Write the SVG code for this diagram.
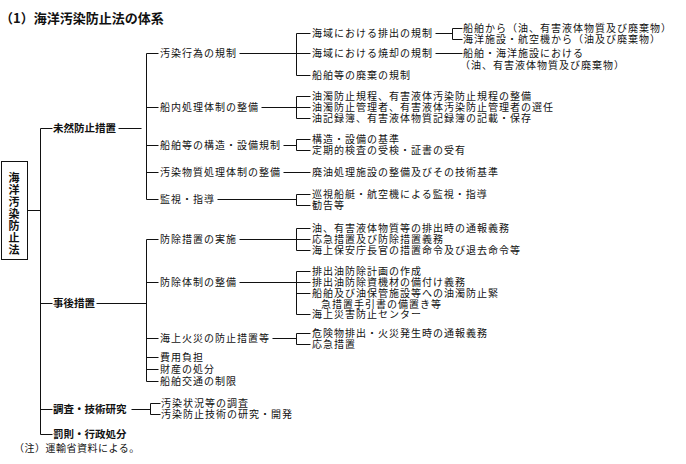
<svg xmlns="http://www.w3.org/2000/svg" width="686" height="464" viewBox="0 0 686 464">
<style>
text{font-family:"Noto Sans CJK JP","Noto Sans CJK SC",sans-serif;fill:#111;font-size:10px;letter-spacing:1px}
.t{font-size:13px;font-weight:bold;letter-spacing:0}
.l1{font-size:10.5px;font-weight:bold;letter-spacing:0}
.box{font-size:11px;font-weight:bold;letter-spacing:0}
.n{font-size:10px;letter-spacing:0.5px}
#connectors path,#connectors rect{fill:none;stroke:#111;stroke-width:1}
</style>
<rect width="686" height="464" fill="#fff"/>
<text class="t" x="0" y="23">（1）海洋汚染防止法の体系</text>
<g id="connectors" transform="translate(0.5,0.5)">
<rect x="1" y="161" width="26" height="98"/>
<path d="M27 210H40M52 128H40V434H52M40 303H52M40 409H52M118 128H141"/>
<path d="M158 53H146V199H158M146 107H158M146 145H158M146 172H158"/>
<path d="M158 239H146V381H158M146 282H158M146 338H158M146 357H158M146 369H158M96 303H146"/>
<path d="M239 53H296M310 33H296V75H310M296 53H310"/>
<path d="M435 33H452M462 28H452V39H462M435 53H462"/>
<path d="M261 107H296M310 96H296V118H310M296 107H310"/>
<path d="M283 145H296M310 139H296V150H310"/>
<path d="M283 172H310"/>
<path d="M217 199H296M310 194H296V205H310"/>
<path d="M239 239H296M310 228H296V250H310M296 239H310"/>
<path d="M239 282H296M310 271H296V314H310M296 282H310M296 293H310"/>
<path d="M272 338H296M310 333H296V344H310"/>
<path d="M131 409H150M160 403H150V414H160"/>
</g>
<g id="root">
<text class="box" text-anchor="middle"><tspan x="14" y="182">海</tspan><tspan x="14" y="194">洋</tspan><tspan x="14" y="206">汚</tspan><tspan x="14" y="218">染</tspan><tspan x="14" y="230">防</tspan><tspan x="14" y="242">止</tspan><tspan x="14" y="254">法</tspan></text>
</g>
<g id="level1">
<text class="l1" x="53" y="132">未然防止措置</text>
<text class="l1" x="53" y="307">事後措置</text>
<text class="l1" x="53" y="413">調査・技術研究</text>
<text class="l1" x="53" y="438">罰則・行政処分</text>
</g>
<g id="level2">
<text x="160" y="57">汚染行為の規制</text>
<text x="160" y="111">船内処理体制の整備</text>
<text x="160" y="149">船舶等の構造・設備規制</text>
<text x="160" y="176">汚染物質処理体制の整備</text>
<text x="160" y="203">監視・指導</text>
<text x="160" y="243">防除措置の実施</text>
<text x="160" y="286">防除体制の整備</text>
<text x="160" y="342">海上火災の防止措置等</text>
<text x="160" y="361">費用負担</text>
<text x="160" y="373">財産の処分</text>
<text x="160" y="385">船舶交通の制限</text>
<text x="161" y="407">汚染状況等の調査</text>
<text x="161" y="418">汚染防止技術の研究・開発</text>
</g>
<g id="level3">
<text x="312" y="37">海域における排出の規制</text>
<text x="312" y="57">海域における焼却の規制</text>
<text x="312" y="79">船舶等の廃棄の規制</text>
<text x="312" y="100">油濁防止規程、有害液体汚染防止規程の整備</text>
<text x="312" y="111">油濁防止管理者、有害液体汚染防止管理者の選任</text>
<text x="312" y="122">油記録簿、有害液体物質記録簿の記載・保存</text>
<text x="312" y="143">構造・設備の基準</text>
<text x="312" y="154">定期的検査の受検・証書の受有</text>
<text x="312" y="176">廃油処理施設の整備及びその技術基準</text>
<text x="312" y="198">巡視船艇・航空機による監視・指導</text>
<text x="312" y="209">勧告等</text>
<text x="312" y="232">油、有害液体物質等の排出時の通報義務</text>
<text x="312" y="243">応急措置及び防除措置義務</text>
<text x="312" y="254">海上保安庁長官の措置命令及び退去命令等</text>
<text x="312" y="275">排出油防除計画の作成</text>
<text x="312" y="286">排出油防除資機材の備付け義務</text>
<text x="312" y="297">船舶及び油保管施設等への油濁防止緊</text>
<text x="321" y="307.5">急措置手引書の備置き等</text>
<text x="312" y="318">海上災害防止センター</text>
<text x="312" y="337">危険物排出・火災発生時の通報義務</text>
<text x="312" y="348">応急措置</text>
</g>
<g id="level4">
<text x="463" y="32">船舶から（油、有害液体物質及び廃棄物）</text>
<text x="463" y="43">海洋施設・航空機から（油及び廃棄物）</text>
<text x="463" y="57">船舶・海洋施設における</text>
<text x="460" y="69">（油、有害液体物質及び廃棄物）</text>
</g>
<text class="n" x="14" y="452">（注）運輸省資料による。</text>
</svg>
